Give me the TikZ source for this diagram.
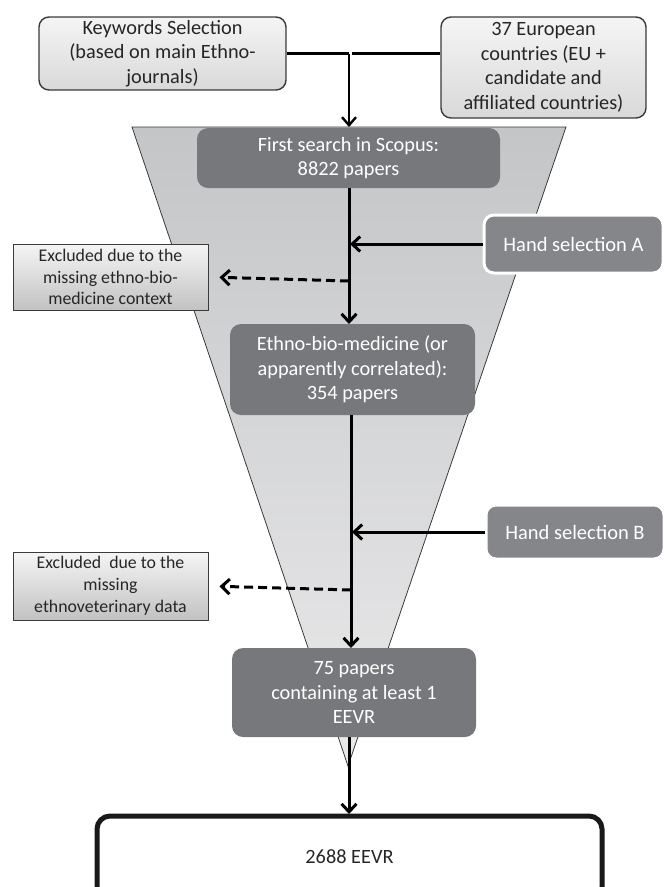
\documentclass[tikz,border=0pt]{standalone}
\usepackage{fontspec}
\setmainfont{Carlito}
\usetikzlibrary{arrows.meta,positioning}
\definecolor{darkbox}{HTML}{77787B}
\definecolor{handbox}{HTML}{858689}
\definecolor{edge}{HTML}{3A3A3A}
\tikzset{
  lightbox/.style={draw=edge,line width=1.4pt,rounded corners=10pt,top color=gray!8,bottom color=gray!30,
    align=center,inner sep=2pt,font=\fontsize{20.3}{24.5}\selectfont,text=black!85},
  darkstep/.style={fill=darkbox,rounded corners=11pt,align=center,inner sep=2pt,text=white,
    font=\fontsize{20.3}{24.5}\selectfont},
  handbox/.style={fill=handbox,draw=white,line width=3pt,rounded corners=10pt,align=center,text=white,
    font=\fontsize{20.5}{24.5}\selectfont},
  exbox/.style={draw=edge,line width=1pt,top color=gray!8,bottom color=gray!48,align=center,
    inner sep=2pt,font=\fontsize{17.8}{21.8}\selectfont,text=black!85},
  flow/.style={line width=3pt,-{Straight Barb[length=8pt,width=15pt,line width=3pt]}},
  dsh/.style={line width=3pt,dash pattern=on 9pt off 5pt,-{Straight Barb[length=8pt,width=15pt,line width=3pt]}},
  joinline/.style={line width=2.4pt},
}
\begin{document}
\begin{tikzpicture}[x=1pt,y=-1pt]
\useasboundingbox (0,0) rectangle (664,887);
% funnel
\shade[top color={rgb,255:red,196;green,197;blue,199},bottom color={rgb,255:red,234;green,234;blue,235},draw=edge,line width=0.8pt]
  (132,127) -- (566,127) -- (348,766) -- cycle;
% top boxes
\node[lightbox,minimum width=247pt,minimum height=73pt] (kw) at (162.5,53.5)
  {Keywords Selection\\(based on main Ethno-\\journals)};
\node[lightbox,minimum width=205pt,minimum height=101pt] (eu) at (543.5,67.5)
  {37 European\\countries (EU +\\candidate and\\affiliated countries)};
% dark steps
\node[darkstep,minimum width=303pt,minimum height=60pt] (fs) at (348.5,158)
  {First search in Scopus:\\8822 papers};
\node[darkstep,minimum width=245pt,minimum height=91pt] (eth) at (352.5,369.5)
  {Ethno-bio-medicine (or\\apparently correlated):\\354 papers};
\node[darkstep,minimum width=244pt,minimum height=89pt] (p75) at (354,692.5)
  {75 papers\\containing at least 1\\EEVR};
% hand selections
\node[handbox,minimum width=179pt,minimum height=58pt] (ha) at (573.5,244) {Hand selection A};
\node[handbox,minimum width=178pt,minimum height=54pt] (hb) at (575,532) {Hand selection B};
% excluded
\node[exbox,minimum width=195pt,minimum height=66pt] (exA) at (110.5,277)
  {Excluded due to the\\missing ethno-bio-\\medicine context};
\node[exbox,minimum width=195pt,minimum height=68pt] (exB) at (110.5,586)
  {Excluded\ \ due to the\\missing\\ethnoveterinary data};
% final
\node[draw=black!90,line width=5pt,rounded corners=13pt,minimum width=505pt,minimum height=84pt,
  font=\fontsize{20.3}{24.5}\selectfont,text=black!85] (ev) at (349.5,858) {\raisebox{3pt}{2688 EEVR}};
% coordinates
\coordinate (j) at (349,53.5);
\coordinate (jr) at (352,53.5);
\coordinate (ftop) at (349,127);
\coordinate (fsb) at (349,188);
\coordinate (ethT) at (349,324);
\coordinate (lA) at (349,244);
\coordinate (dA) at (349,281);
\coordinate (ethB) at (351,415);
\coordinate (p75T) at (351,648);
\coordinate (lB) at (351,532);
\coordinate (dB) at (351,590);
\coordinate (p75B) at (349,737);
\coordinate (evT) at (349,816);
% connectors
\draw[joinline] (kw.east) -- (j);
\draw[joinline] (jr) -- (jr -| eu.west);
\draw[line width=2.4pt,-{Straight Barb[length=8pt,width=14pt,line width=2.4pt]}] (j) -- (ftop);
\draw[flow] (fsb) -- (ethT);
\draw[flow,shorten >=1pt] (ha.west) -- (lA);
\draw[dsh,shorten >=11pt] (dA) -- (exA.east);
\draw[flow] (ethB) -- (p75T);
\draw[flow,shorten >=1pt] (hb.west) -- (lB);
\draw[dsh,shorten >=11pt] (dB) -- (exB.east);
\draw[flow,shorten >=2pt] (p75B) -- (evT);
\end{tikzpicture}
\end{document}
